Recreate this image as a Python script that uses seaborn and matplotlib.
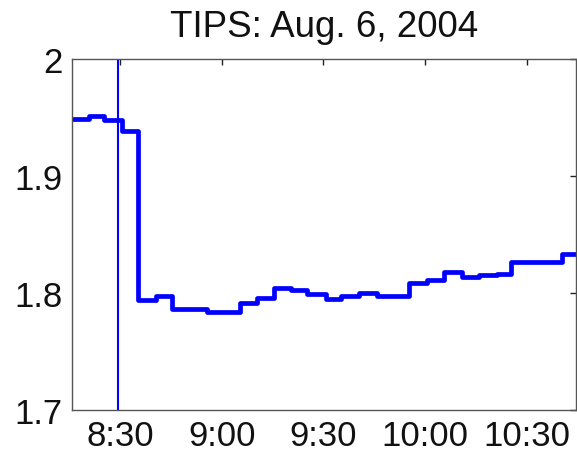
import matplotlib
matplotlib.use("Agg")
import matplotlib.pyplot as plt
import seaborn as sns
import pandas as pd

# minutes after 8:00 at which each level starts
times = [16.0, 20.8, 25.2, 30.7, 35.5, 40.7, 45.4, 55.7, 65.5, 70.4, 75.3, 80.3,
         85.2, 90.6, 95.1, 100.4, 105.8, 115.1, 120.5, 125.4, 130.9, 135.7,
         141.2, 145.1, 160.3, 164.3]
values = [1.949, 1.951, 1.948, 1.938, 1.794, 1.797, 1.786, 1.7836, 1.7916, 1.7957,
          1.8037, 1.8023, 1.7986, 1.7951, 1.7975, 1.7997, 1.7975, 1.808, 1.8111,
          1.8174, 1.8134, 1.8149, 1.8163, 1.8263, 1.8334, 1.8334]
event_time = 29.4
xtick_pos = [30, 60, 90, 120, 150]
xtick_labels = ["8:30", "9:00", "9:30", "10:00", "10:30"]
ytick_pos = [1.7, 1.8, 1.9, 2.0]
ytick_labels = ["1.7", "1.8", "1.9", "2"]
title = "TIPS: Aug. 6, 2004"

sns.set_style("white")
plt.rcParams["font.family"] = ["Liberation Sans", "DejaVu Sans"]

df = pd.DataFrame({"t": times, "v": values})

W, H = 577, 452
fig = plt.figure(figsize=(W / 100, H / 100), dpi=100)
ax = fig.add_axes([72.3 / W, 1 - 410.7 / H, (575.7 - 72.3) / W, (410.7 - 60) / H])

sns.lineplot(data=df, x="t", y="v", ax=ax, color="#0000ff", linewidth=3.4,
             drawstyle="steps-post", solid_joinstyle="round", solid_capstyle="butt")
ax.axvline(event_time, color="#0000ff", linewidth=1.5)

ax.set_xlim(16.0, 164.3)
ax.set_ylim(1.7, 2.0)
ax.set_xticks(xtick_pos)
ax.set_xticklabels(xtick_labels)
ax.set_yticks(ytick_pos)
ax.set_yticklabels(ytick_labels)
ax.set_xlabel("")
ax.set_ylabel("")
ax.tick_params(direction="in", length=4, width=1.0, color="#222222",
               top=True, right=True, labelsize=25, labelcolor="#111111")
ax.tick_params(axis="x", pad=7)
ax.tick_params(axis="y", pad=7)
for s in ax.spines.values():
    s.set_visible(True)
    s.set_color("#555555")
    s.set_linewidth(1.0)

fig.text(324 / W, 1 - 37 / H, title, fontsize=26.5, color="#111111",
         ha="center", va="baseline")

fig.savefig("out.png", dpi=100)
